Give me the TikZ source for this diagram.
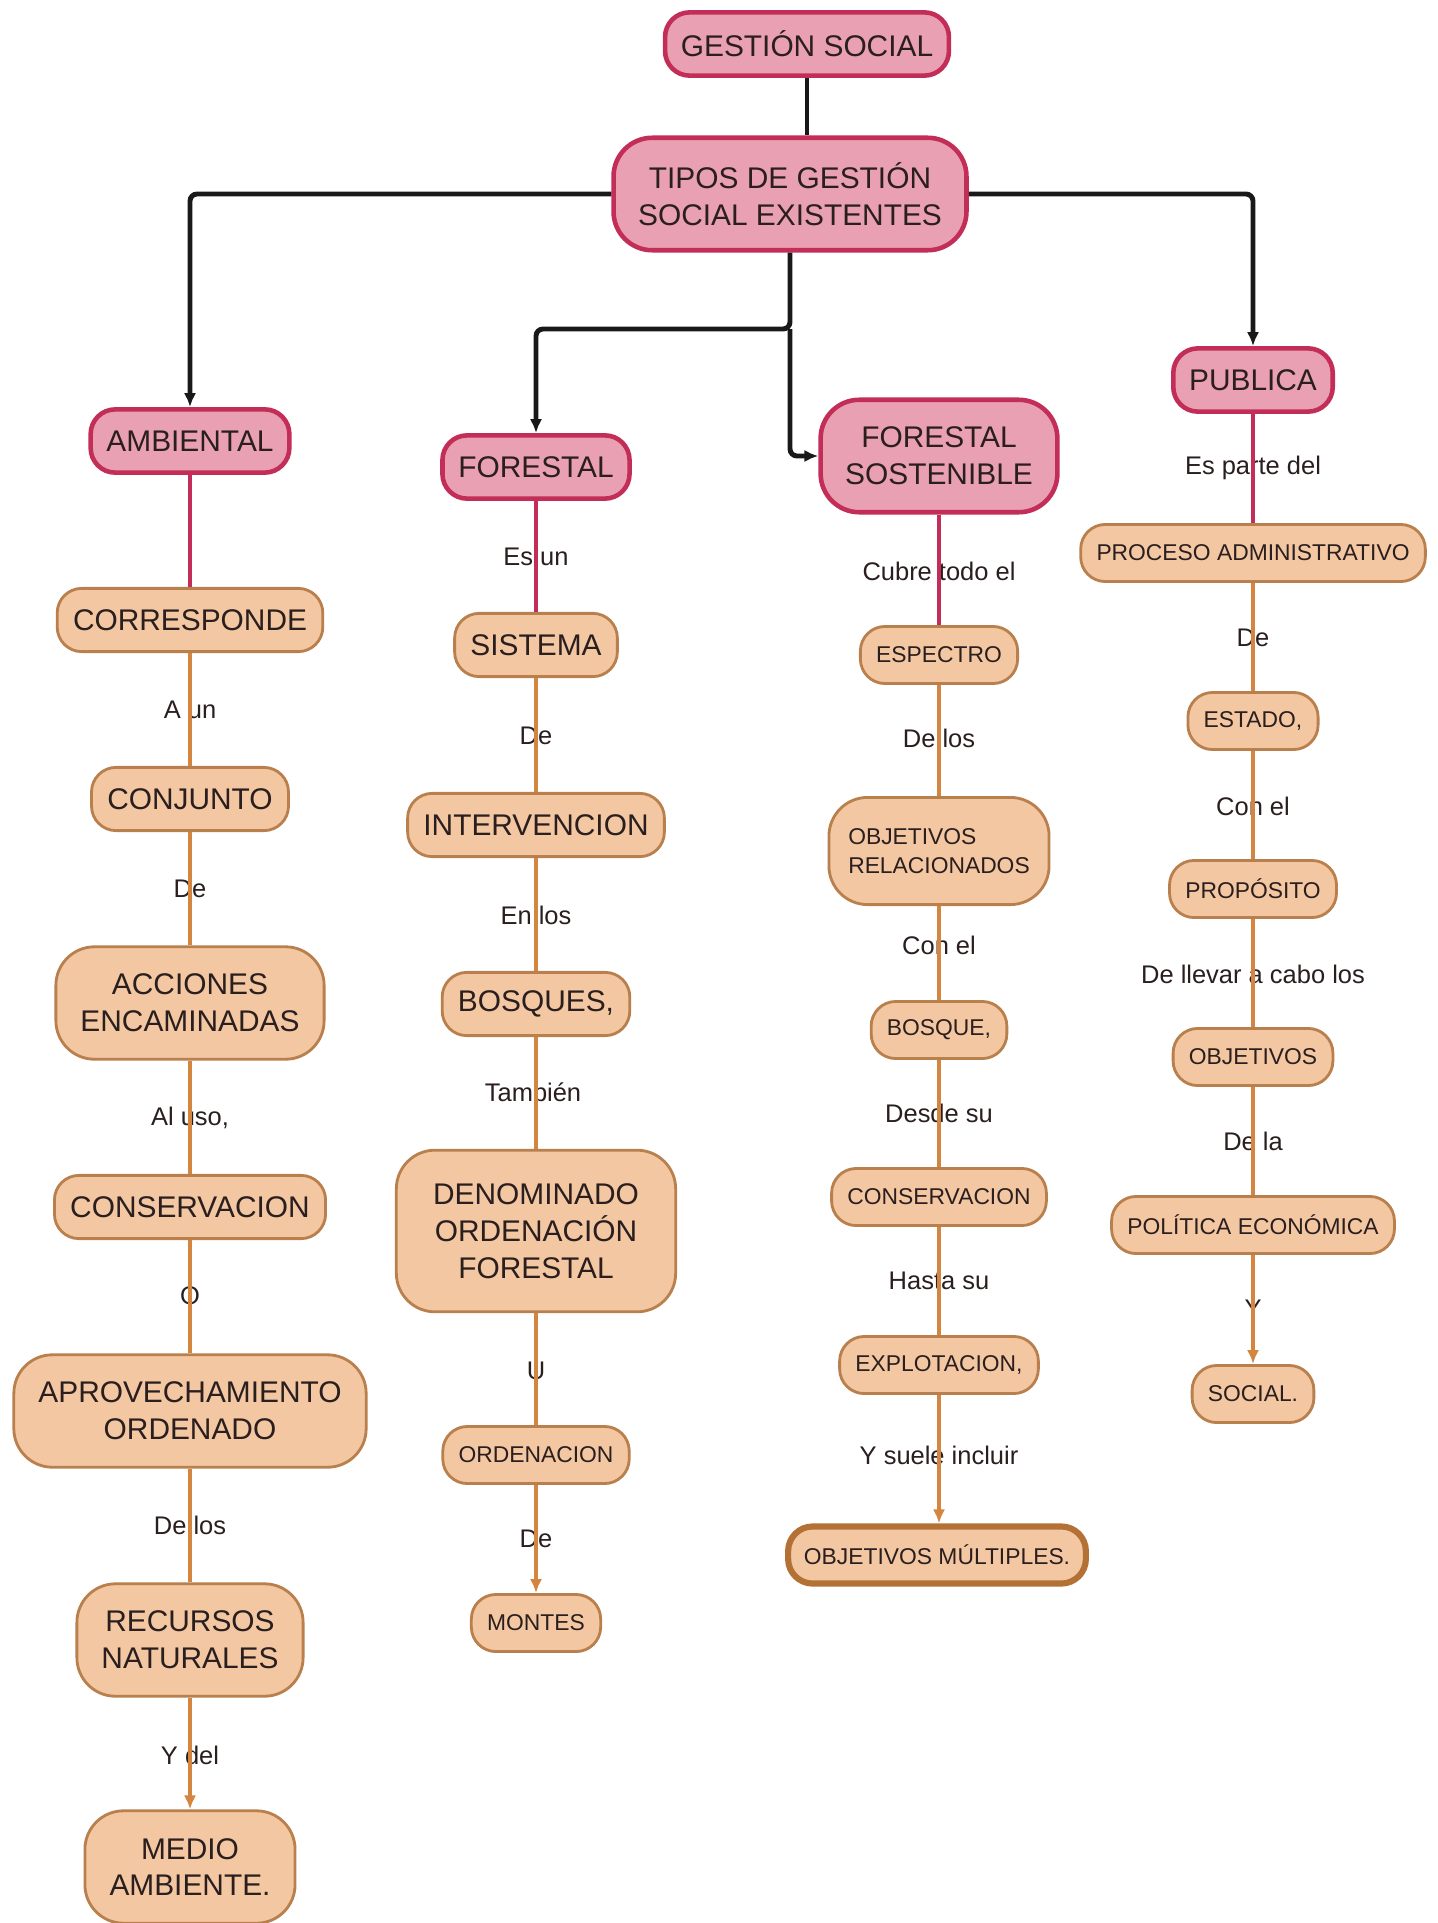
\documentclass[tikz,border=0pt]{standalone}
\usepackage{fontspec}
\setmainfont{Liberation Sans}
\usetikzlibrary{arrows.meta}

\definecolor{pinkfill}{HTML}{E9A0B2}
\definecolor{pinkline}{HTML}{C22E57}
\definecolor{orfill}{HTML}{F2C7A2}
\definecolor{orborder}{HTML}{B97F4C}
\definecolor{orline}{HTML}{D4853F}
\definecolor{ink}{HTML}{2A1E1E}

\tikzset{
  headbox/.style={draw=pinkline, fill=pinkfill, line width=2.6pt, rounded corners=14pt,
    inner xsep=9pt, minimum height=36pt, text=ink, align=center,
    font=\fontsize{17}{21}\selectfont},
  bigbox/.style={draw=orborder, fill=orfill, line width=1.6pt, rounded corners=14pt,
    inner xsep=9pt, minimum height=36pt, text=ink, align=center,
    font=\fontsize{17}{21}\selectfont},
  smallbox/.style={bigbox, minimum height=32.5pt, font=\fontsize{13}{16.5}\selectfont},
  tall/.style={minimum height=64pt, inner xsep=14pt, rounded corners=22pt},
  lbl/.style={text=ink, inner sep=0pt, font=\fontsize{14.5}{17}\selectfont},
  blk/.style={draw=black!90, line width=2.8pt, rounded corners=4pt},
  pk/.style={draw=pinkline, line width=2.5pt},
  og/.style={draw=orline, line width=2.5pt},
  endarrow/.style={-{Latex[length=8pt,width=7pt]}}
}

\begin{document}
\begin{tikzpicture}[x=0.02cm, y=-0.02cm]
\useasboundingbox (0,0) rectangle (1437,1923);

% cabecera
\node[headbox] (gs) at (807,44) {GESTIÓN SOCIAL};
\node[headbox, tall] (tipos) at (790,194) {TIPOS DE GESTIÓN\\SOCIAL EXISTENTES};

\node[headbox] (amb) at (190,441) {AMBIENTAL};
\node[headbox] (fore) at (536,467) {FORESTAL};
\node[headbox, tall] (fs) at (939,456) {FORESTAL\\SOSTENIBLE};
\node[headbox] (pub) at (1253,380) {PUBLICA};

\coordinate (fork) at (790,329);
\draw[blk] (gs.south) -- (gs.south |- tipos.north);
\draw[blk, endarrow] (tipos.west) -| (amb.north);
\draw[blk, endarrow] (tipos.east) -| (pub.north);
\draw[blk, endarrow] (tipos.south) -- (fork) -| (fore.north);
\draw[blk, endarrow] (fork) |- (fs.west);

% ambiental
\node[bigbox] (c1a) at (190,620) {CORRESPONDE};
\node[bigbox] (c1b) at (190,799) {CONJUNTO};
\node[bigbox, tall] (c1c) at (190,1003) {ACCIONES\\ENCAMINADAS};
\node[bigbox] (c1d) at (190,1207) {CONSERVACION};
\node[bigbox, tall] (c1e) at (190,1411) {APROVECHAMIENTO\\ORDENADO};
\node[bigbox, tall] (c1f) at (190,1640) {RECURSOS\\NATURALES};
\node[bigbox, tall] (c1g) at (190,1867) {MEDIO\\AMBIENTE.};

\node[lbl] (l1b) at (190,710) {A un};
\node[lbl] (l1c) at (190,889) {De};
\node[lbl] (l1d) at (190,1118) {Al uso,};
\node[lbl] (l1e) at (190,1296) {O};
\node[lbl] (l1f) at (190,1525) {De los};
\node[lbl] (l1g) at (190,1755) {Y del};

\draw[pk] (amb) -- (c1a);
\draw[og] (c1a) -- (c1b);
\draw[og] (c1b) -- (c1c);
\draw[og] (c1c) -- (c1d);
\draw[og] (c1d) -- (c1e);
\draw[og] (c1e) -- (c1f);
\draw[og, endarrow] (c1f) -- (c1g);

% forestal
\node[bigbox] (c2a) at (536,645) {SISTEMA};
\node[bigbox] (c2b) at (536,825) {INTERVENCION};
\node[bigbox] (c2c) at (536,1004) {BOSQUES,};
\node[bigbox, tall, minimum height=92pt, minimum width=159pt] (c2d) at (536,1231)
  {DENOMINADO\\ORDENACIÓN\\FORESTAL};
\node[smallbox] (c2e) at (536,1455) {ORDENACION};
\node[smallbox] (c2f) at (536,1623) {MONTES};

\node[lbl] (l2a) at (536,557) {Es un};
\node[lbl] (l2b) at (536,736) {De};
\node[lbl] (l2c) at (536,915) {En los};
\node[lbl] (l2d) at (533,1092) {También};
\node[lbl] (l2e) at (536,1371) {U};
\node[lbl] (l2f) at (536,1539) {De};

\draw[pk] (fore) -- (c2a);
\draw[og] (c2a) -- (c2b);
\draw[og] (c2b) -- (c2c);
\draw[og] (c2c) -- (c2d);
\draw[og] (c2d) -- (c2e);
\draw[og, endarrow] (c2e) -- (c2f);

% forestal sostenible
\node[smallbox] (c3a) at (939,655) {ESPECTRO};
\node[smallbox, tall, minimum height=61pt, inner xsep=11pt, align=left] (c3b) at (939,851)
  {OBJETIVOS\\RELACIONADOS};
\node[smallbox] (c3c) at (939,1030) {BOSQUE,};
\node[smallbox] (c3d) at (939,1197) {CONSERVACION};
\node[smallbox] (c3e) at (939,1365) {EXPLOTACION,};
\node[smallbox, line width=3.5pt, draw=orline!85!black] (c3f) at (937,1555) {OBJETIVOS MÚLTIPLES.};

\node[lbl] (l3a) at (939,571) {Cubre todo el};
\node[lbl] (l3b) at (939,738) {De los};
\node[lbl] (l3c) at (939,945) {Con el};
\node[lbl] (l3d) at (939,1113) {Desde su};
\node[lbl] (l3e) at (939,1281) {Hasta su};
\node[lbl] (l3f) at (939,1455) {Y suele incluir};

\draw[pk] (fs) -- (c3a);
\draw[og] (c3a) -- (c3b);
\draw[og] (c3b) -- (c3c);
\draw[og] (c3c) -- (c3d);
\draw[og] (c3d) -- (c3e);
\draw[og, endarrow] (c3e) -- (c3e |- c3f.north);

% publica
\node[smallbox] (c4a) at (1253,553) {PROCESO ADMINISTRATIVO};
\node[smallbox] (c4b) at (1253,721) {ESTADO,};
\node[smallbox] (c4c) at (1253,889) {PROPÓSITO};
\node[smallbox] (c4d) at (1253,1057) {OBJETIVOS};
\node[smallbox] (c4e) at (1253,1225) {POLÍTICA ECONÓMICA};
\node[smallbox] (c4f) at (1253,1394) {SOCIAL.};

\node[lbl] (l4a) at (1253,468) {Es parte del};
\node[lbl] (l4b) at (1253,638) {De};
\node[lbl] (l4c) at (1253,806) {Con el};
\node[lbl] (l4d) at (1253,974) {De llevar a cabo los};
\node[lbl] (l4e) at (1253,1141) {De la};
\node[lbl] (l4f) at (1253,1309) {Y};

\draw[pk] (pub) -- (c4a);
\draw[og] (c4a) -- (c4b);
\draw[og] (c4b) -- (c4c);
\draw[og] (c4c) -- (c4d);
\draw[og] (c4d) -- (c4e);
\draw[og, endarrow] (c4e) -- (c4f);
\end{tikzpicture}
\end{document}
